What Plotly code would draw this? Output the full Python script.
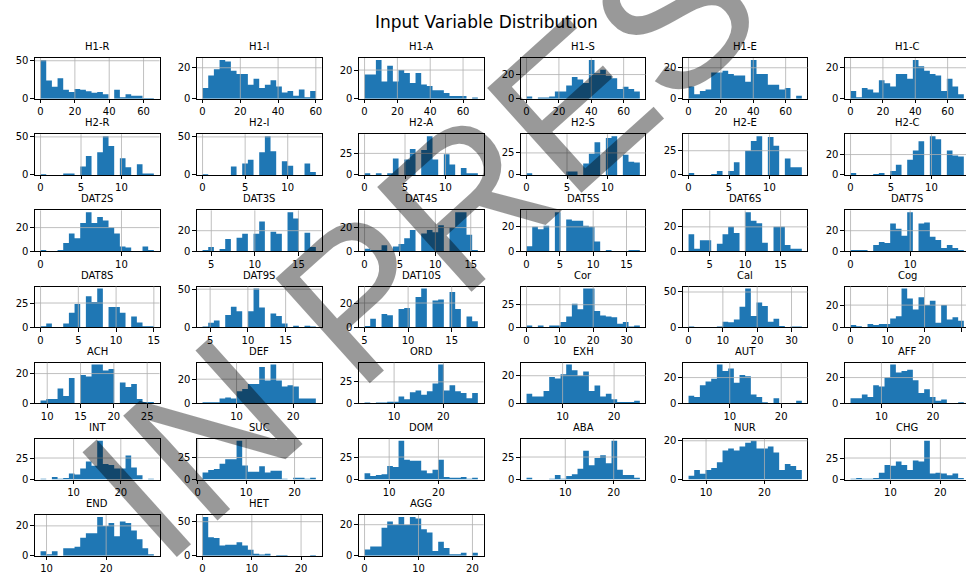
import numpy as np
import plotly.graph_objects as go

# ---- variables, data extent and per-bin counts (20 bins each) ----
names = ["H1-R", "H1-I", "H1-A", "H1-S", "H1-E", "H1-C",
         "H2-R", "H2-I", "H2-A", "H2-S", "H2-E", "H2-C",
         "DAT2S", "DAT3S", "DAT4S", "DAT5S", "DAT6S", "DAT7S",
         "DAT8S", "DAT9S", "DAT10S", "Cor", "Cal", "Cog",
         "ACH", "DEF", "ORD", "EXH", "AUT", "AFF",
         "INT", "SUC", "DOM", "ABA", "NUR", "CHG",
         "END", "HET", "AGG"]

data_min = [0, 0, 0, 0, 0, 0,
            0, 0, 0, 0, 0, 0,
            0, 4, 0, 0, 2, 0,
            0, 4, 5, 0, 0, 0,
            9, 4, 4, 3, 2, 4,
            3, 1, 5, 2, 7, 2,
            9, 0, 0]
data_max = [66, 60, 69, 70, 70, 70,
            14, 13.3, 14, 14, 14, 14,
            14, 17, 16, 17, 18, 19,
            15, 19, 18, 34, 33, 30.6,
            26, 24, 27, 25, 24, 26,
            27, 24.4, 28, 25.4, 26.4, 24.7,
            28, 23, 21]

h1_r = [51, 24, 16, 27, 12, 9, 13, 12, 10, 8, 9, 6, 0, 12, 2, 6, 4, 4, 1, 1]
h1_i = [7, 15, 19, 25, 24, 18, 16, 16, 9, 13, 7, 9, 12, 8, 4, 5, 2, 6, 1, 5]
h1_a = [17, 17, 27, 12, 23, 12, 20, 18, 11, 18, 10, 9, 6, 6, 4, 2, 2, 2, 0, 1]
h1_s = [2, 0, 1, 1, 2, 6, 6, 11, 18, 16, 13, 32, 21, 24, 19, 17, 8, 10, 8, 6]
h1_e = [8, 3, 5, 6, 17, 17, 18, 16, 15, 15, 11, 25, 16, 16, 9, 9, 6, 7, 0, 2]
h1_c = [5, 1, 7, 6, 4, 12, 10, 8, 16, 16, 13, 25, 21, 18, 16, 15, 5, 13, 8, 3]

h2_r = [1, 0, 0, 0, 2, 2, 0, 11, 25, 0, 30, 51, 38, 0, 22, 10, 0, 14, 2, 2]
h2_i = [1, 0, 0, 0, 0, 11, 0, 15, 20, 0, 30, 51, 31, 0, 18, 12, 0, 0, 15, 4]
h2_a = [2, 0, 2, 0, 2, 19, 0, 18, 30, 0, 29, 45, 18, 0, 24, 12, 0, 8, 2, 2]
h2_s = [2, 0, 0, 0, 0, 0, 0, 4, 4, 0, 13, 24, 37, 0, 42, 44, 0, 23, 15, 14]
h2_e = [2, 0, 0, 0, 1, 4, 0, 4, 13, 0, 25, 35, 40, 0, 39, 30, 0, 17, 8, 8]
h2_c = [2, 0, 0, 0, 1, 2, 0, 4, 10, 0, 15, 24, 33, 0, 38, 35, 0, 24, 19, 18]

dat2s = [1, 0, 0, 1, 7, 15, 11, 24, 33, 24, 29, 26, 20, 15, 4, 3, 0, 0, 4, 1]
dat3s = [1, 4, 0, 2, 12, 0, 13, 17, 0, 17, 29, 0, 19, 17, 0, 38, 32, 0, 18, 4]
dat4s = [2, 1, 1, 5, 0, 4, 6, 11, 18, 0, 15, 18, 16, 22, 0, 20, 33, 33, 14, 1]
dat5s = [4, 20, 18, 21, 0, 32, 0, 26, 25, 25, 21, 20, 8, 0, 1, 0, 0, 0, 1, 1]
dat6s = [14, 2, 9, 9, 0, 6, 14, 20, 15, 0, 32, 25, 23, 7, 0, 20, 20, 5, 2, 2]
dat7s = [1, 1, 1, 0, 6, 9, 8, 27, 22, 15, 38, 0, 27, 28, 14, 11, 3, 6, 3, 1]

dat8s = [1, 4, 0, 0, 4, 15, 24, 0, 32, 26, 40, 0, 21, 21, 15, 0, 11, 5, 1, 1]
dat9s = [1, 6, 9, 0, 16, 27, 21, 0, 21, 51, 26, 0, 18, 15, 5, 0, 2, 0, 2, 1]
dat10s = [1, 7, 0, 11, 10, 0, 15, 16, 0, 25, 32, 0, 22, 23, 0, 29, 15, 0, 9, 5]
cor = [2, 0, 2, 0, 2, 2, 6, 12, 26, 20, 43, 43, 18, 13, 12, 11, 4, 6, 1, 2]
cal = [1, 0, 0, 0, 0, 1, 8, 7, 11, 29, 55, 16, 35, 30, 8, 12, 2, 0, 1, 1]
cog = [2, 1, 0, 3, 2, 3, 3, 8, 10, 35, 26, 16, 27, 20, 24, 4, 20, 7, 9, 6]

ach = [2, 3, 3, 10, 5, 17, 0, 19, 18, 26, 26, 22, 23, 0, 14, 11, 13, 3, 1, 1]
def_ = [1, 1, 1, 4, 5, 4, 10, 12, 16, 16, 30, 19, 32, 19, 14, 15, 14, 4, 4, 4]
ord_ = [1, 0, 1, 1, 2, 2, 8, 5, 13, 15, 10, 14, 23, 45, 15, 21, 14, 12, 6, 12]
exh = [7, 5, 5, 9, 19, 18, 21, 28, 24, 20, 23, 9, 13, 5, 7, 3, 1, 1, 1, 2]
aut = [6, 5, 14, 17, 19, 30, 25, 27, 16, 22, 21, 7, 5, 1, 0, 4, 0, 0, 0, 2]
aff = [4, 4, 7, 5, 14, 13, 20, 30, 24, 25, 26, 18, 8, 11, 5, 2, 3, 0, 0, 1]

int_ = [1, 0, 3, 1, 2, 7, 6, 13, 21, 16, 45, 18, 17, 13, 13, 28, 14, 5, 0, 1]
suc = [8, 11, 12, 18, 23, 23, 44, 16, 9, 9, 15, 8, 10, 10, 1, 0, 2, 2, 1, 2]
dom = [7, 4, 5, 6, 15, 14, 43, 22, 21, 21, 10, 7, 11, 22, 3, 2, 2, 3, 1, 2]
aba = [2, 0, 0, 0, 1, 5, 1, 4, 6, 12, 32, 16, 24, 27, 18, 43, 11, 5, 5, 2]
nur = [2, 5, 3, 5, 6, 9, 15, 16, 15, 17, 19, 20, 16, 16, 17, 14, 5, 8, 7, 5]
chg = [1, 2, 1, 1, 2, 8, 17, 16, 21, 17, 11, 22, 21, 45, 7, 8, 7, 5, 7, 2]

end = [3, 1, 3, 0, 5, 5, 6, 12, 15, 15, 26, 20, 22, 13, 23, 22, 17, 11, 5, 1]
het = [57, 27, 26, 15, 16, 16, 20, 15, 9, 3, 2, 3, 0, 1, 1, 0, 0, 0, 0, 1]
agg = [4, 6, 6, 18, 22, 20, 25, 20, 25, 24, 17, 15, 3, 9, 5, 1, 1, 2, 0, 2]

counts = [h1_r, h1_i, h1_a, h1_s, h1_e, h1_c,
          h2_r, h2_i, h2_a, h2_s, h2_e, h2_c,
          dat2s, dat3s, dat4s, dat5s, dat6s, dat7s,
          dat8s, dat9s, dat10s, cor, cal, cog,
          ach, def_, ord_, exh, aut, aff,
          int_, suc, dom, aba, nur, chg,
          end, het, agg]

x_ticks = [[0, 20, 40, 60]] * 6 + [[0, 5, 10]] * 6 + [
    [0, 10], [5, 10, 15], [0, 5, 10, 15], [0, 5, 10, 15], [5, 10, 15], [0, 10],
    [0, 5, 10, 15], [5, 10, 15], [5, 10, 15], [0, 10, 20, 30], [0, 10, 20, 30], [0, 10, 20, 30],
    [10, 15, 20, 25], [10, 20], [10, 20], [10, 20], [10, 20], [10, 20],
    [10, 20], [0, 10, 20], [10, 20], [10, 20], [10, 20], [10, 20],
    [10, 20], [0, 10, 20], [0, 10, 20]]
y_ticks = [[0, 50], [0, 20], [0, 20], [0, 20], [0, 20], [0, 20],
           [0, 50], [0, 50], [0, 25], [0, 25], [0, 25], [0, 20],
           [0, 20], [0, 20], [0, 20], [0, 20], [0, 20], [0, 20],
           [0, 25], [0, 50], [0, 20], [0, 25], [0, 50], [0, 20],
           [0, 20], [0, 20], [0, 25], [0, 20], [0, 20], [0, 20],
           [0, 25], [0, 25], [0, 25], [0, 25], [0, 20], [0, 25],
           [0, 20], [0, 50], [0, 20]]

# ---- page geometry (pixels) ----
W, H = 967, 577
N_COLS = 6
col_left = [33, 195.5, 358, 520.5, 683, 845.5]
row_top = [55, 132.5, 210, 287.5, 365, 442.5, 520]
ax_w, ax_h = 125, 41.5

BAR_COLOR = "#1f77b4"
GRID_COLOR = "#b0b0b0"
FONT = "DejaVu Sans"

fig = go.Figure()
layout = dict(width=W, height=H, margin=dict(l=0, r=0, t=0, b=0),
              paper_bgcolor="white", plot_bgcolor="white",
              showlegend=False, font=dict(family=FONT, size=10, color="#000"))
annotations = []
shapes = []

for i, name in enumerate(names):
    r, c = divmod(i, N_COLS)
    n = i + 1
    xa = "xaxis" if n == 1 else f"xaxis{n}"
    ya = "yaxis" if n == 1 else f"yaxis{n}"
    xr = "x" if n == 1 else f"x{n}"
    yr = "y" if n == 1 else f"y{n}"

    lo, hi = data_min[i], data_max[i]
    edges = np.linspace(lo, hi, len(counts[i]) + 1)
    # histogram drawn as one filled step outline so adjacent bins join seamlessly
    step_y = list(counts[i]) + [counts[i][-1]]
    fig.add_trace(go.Scatter(x=edges, y=step_y, mode="lines",
                             line=dict(shape="hv", width=0, color=BAR_COLOR),
                             fill="tozeroy", fillcolor=BAR_COLOR,
                             xaxis=xr, yaxis=yr, hoverinfo="skip"))

    pad = 0.05 * (hi - lo)
    x0, x1 = lo - pad, hi + pad
    left = col_left[c]
    right = left + ax_w
    clipped = right > W
    if clipped:
        x1 = x0 + (x1 - x0) * (W - left) / ax_w
        right = W
    top = row_top[r]
    bottom = top + ax_h
    ymax = 1.05 * max(counts[i])

    layout[xa] = dict(domain=[left / W, right / W], range=[x0, x1], anchor=yr,
                      showgrid=False, zeroline=False, showline=True, linecolor="#000",
                      linewidth=1, mirror=True, ticks="outside", ticklen=3.5,
                      tickwidth=0.8, tickcolor="#000", tickvals=x_ticks[i],
                      tickfont=dict(size=10, family=FONT, color="#000"), fixedrange=True)
    layout[ya] = dict(domain=[1 - bottom / H, 1 - top / H], range=[0, ymax], anchor=xr,
                      showgrid=False, zeroline=False, showline=True, linecolor="#000",
                      linewidth=1, mirror=not clipped, ticks="outside", ticklen=3.5,
                      tickwidth=0.8, tickcolor="#000", tickvals=y_ticks[i],
                      tickfont=dict(size=10, family=FONT, color="#000"), fixedrange=True)

    # grid drawn over the bars
    for t in x_ticks[i]:
        if x0 < t < x1:
            shapes.append(dict(type="line", xref=xr, yref=f"{yr} domain",
                               x0=t, x1=t, y0=0, y1=1, layer="above",
                               line=dict(color=GRID_COLOR, width=0.8)))
    for t in y_ticks[i]:
        if 0 < t < ymax:
            shapes.append(dict(type="line", xref=f"{xr} domain", yref=yr,
                               x0=0, x1=1, y0=t, y1=t, layer="above",
                               line=dict(color=GRID_COLOR, width=0.8)))

    annotations.append(dict(text=name, xref="paper", yref="paper",
                            x=(left + ax_w / 2) / W, y=1 - (top - 4) / H,
                            xanchor="center", yanchor="bottom", showarrow=False,
                            font=dict(size=10, family=FONT, color="#000")))

annotations.append(dict(text="Input Variable Distribution", xref="paper", yref="paper",
                        x=486 / W, y=1 - 18 / H, xanchor="center", yanchor="middle",
                        showarrow=False, font=dict(size=17, family=FONT, color="#000")))

# diagonal "IN PRESS" stamp over the whole sheet
annotations.append(dict(text="IN PRESS", xref="paper", yref="paper",
                        x=470 / W, y=1 - 196 / H, xanchor="center", yanchor="middle",
                        textangle=-42, showarrow=False,
                        font=dict(size=205, family="Liberation Sans", color="rgba(0,0,0,0.4)")))

layout["annotations"] = annotations
layout["shapes"] = shapes
fig.update_layout(**layout)
fig.write_html("out.html")
